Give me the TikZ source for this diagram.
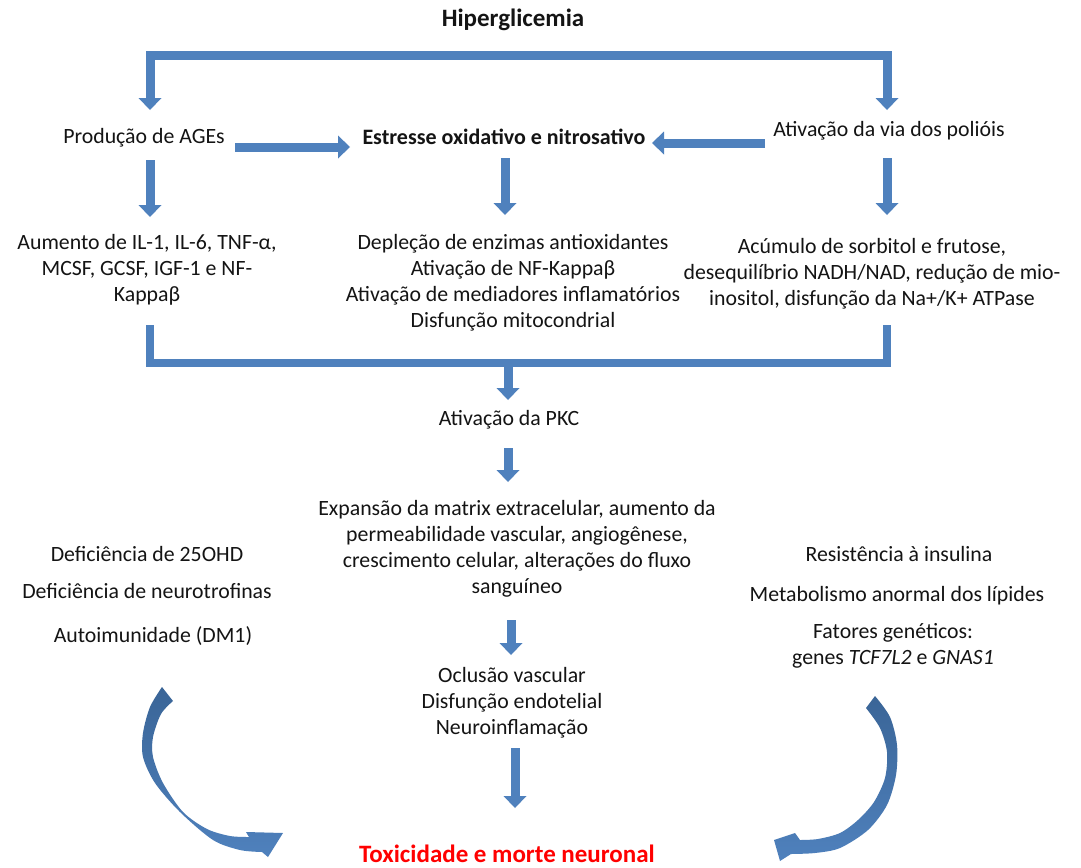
\documentclass[tikz,border=0pt]{standalone}
\usepackage{fontspec}
\setmainfont{Carlito}
\usetikzlibrary{arrows.meta}
\definecolor{arrblue}{HTML}{4F81BD}
\definecolor{arrdark}{HTML}{3A6597}
\definecolor{txtcol}{HTML}{141414}
\begin{document}
\begin{tikzpicture}[x=1pt,y=-1pt,
  txt/.style={font=\fontsize{21.8}{26}\selectfont, align=center, inner sep=0pt, text=txtcol},
  boldtxt/.style={txt, font=\fontsize{22}{26}\selectfont\bfseries},
  bigbold/.style={txt, font=\fontsize{25}{28}\selectfont\bfseries},
  headtip/.tip={Triangle[width=23pt,length=12pt,line width=0pt]},
  barrow/.style={draw=arrblue, line width=9pt, line join=miter, -headtip},
  bbarrow/.style={draw=arrblue, line width=9pt, line join=miter, headtip-headtip},
  bar/.style={draw=arrblue, line width=8pt, line join=miter},
  curved/.style={top color=arrdark, bottom color=arrblue, draw=none}]
\useasboundingbox (0,0) rectangle (1081,867);
\fill[white] (0,0) rectangle (1081,867);

% ---------- text nodes ----------
\node[bigbold] (hiper) at (513,20) {Hiperglicemia};
\node[txt] (ages) at (144,138) {Produção de AGEs};
\node[boldtxt] (estresse) at (504,137) {Estresse oxidativo e nitrosativo};
\node[txt] (poliois) at (889,131) {Ativação da via dos polióis};
\node[txt] (il) at (147,270) {Aumento de IL-1, IL-6, TNF-α,\\MCSF, GCSF, IGF-1 e NF-\\Kappaβ};
\node[txt] (deplecao) at (513,283) {Depleção de enzimas antioxidantes\\Ativação de NF-Kappaβ\\Ativação de mediadores inflamatórios\\Disfunção mitocondrial};
\node[txt] (sorbitol) at (872,274) {Acúmulo de sorbitol e frutose,\\desequilíbrio NADH/NAD, redução de mio-\\inositol, disfunção da Na+/K+ ATPase};
\node[txt] (pkc) at (509,420) {Ativação da PKC};
\node[txt] (expansao) at (517,549) {Expansão da matrix extracelular, aumento da\\permeabilidade vascular, angiogênese,\\crescimento celular, alterações do fluxo\\sanguíneo};
\node[txt] (oclusao) at (512,703) {Oclusão vascular\\Disfunção endotelial\\Neuroinflamação};
\node[bigbold, text=red] (tox) at (507,854) {Toxicidade e morte neuronal};

\node[txt] (d25) at (147,554) {Deficiência de 25OHD};
\node[txt] (dneuro) at (147,591) {Deficiência de neurotrofinas};
\node[txt] (auto) at (153,636) {Autoimunidade (DM1)};
\node[txt] (resist) at (899,554) {Resistência à insulina};
\node[txt] (metab) at (897,596) {Metabolismo anormal dos lípides};
\node[txt] (fatores) at (893,646) {Fatores genéticos:\\genes \textit{TCF7L2} e \textit{GNAS1}};

% ---------- connector coordinates ----------
\coordinate (topL) at (150,110);
\coordinate (topLc) at (150,56);
\coordinate (topRc) at (887,56);
\coordinate (topR) at (887,110);

\coordinate (agesR) at (235,147);
\coordinate (estL) at (350,147);
\coordinate (polL) at (765,143);
\coordinate (estR) at (652,143);

\coordinate (agesD1) at (150,160);
\coordinate (agesD2) at (150,217);
\coordinate (estD1) at (505,158);
\coordinate (estD2) at (505,215);
\coordinate (polD1) at (887,158);
\coordinate (polD2) at (887,215);

\coordinate (botL) at (150,325);
\coordinate (botLc) at (150,363);
\coordinate (botRc) at (887,363);
\coordinate (botR) at (887,325);
\coordinate (botM) at (508,363);
\coordinate (pkcT) at (508,400);

\coordinate (pkcB) at (508,448);
\coordinate (expT) at (508,482);
\coordinate (expB) at (511,620);
\coordinate (oclT) at (511,655);
\coordinate (oclB) at (515,748);
\coordinate (toxT) at (515,808);

% ---------- block arrows ----------
\draw[bbarrow] (topL) -- (topLc) -- (topRc) -- (topR);
\draw[barrow] (agesR) -- (estL);
\draw[barrow] (polL) -- (estR);
\draw[barrow] (agesD1) -- (agesD2);
\draw[barrow] (estD1) -- (estD2);
\draw[barrow] (polD1) -- (polD2);
\draw[bar] (botL) -- (botLc) -- (botRc) -- (botR);
\draw[barrow] (botM) -- (pkcT);
\draw[barrow] (pkcB) -- (expT);
\draw[barrow] (expB) -- (oclT);
\draw[barrow] (oclB) -- (toxT);

% ---------- curved arrows ----------
\shade[curved] (162,687)
  -- plot[smooth] coordinates {(162,687) (150,707) (143,733) (143,757) (155,783) (180,812) (213,840) (240,850) (262,852)}
  -- (268,857) -- (283,833) -- (246,832)
  -- plot[smooth] coordinates {(249,837) (230,836) (207,829) (183,812) (163,783) (153,757) (153,737) (161,714) (173,701)}
  -- cycle;

\shade[curved] (875,696)
  -- plot[smooth] coordinates {(875,696) (890,717) (897,745) (896,775) (887,805) (868,830) (840,848) (815,853) (791,854)}
  -- (780,861) -- (774,840) -- (795,833)
  -- plot[smooth] coordinates {(800,840) (818,839) (840,833) (858,820) (874,802) (885,778) (887,752) (880,728) (866,708)}
  -- cycle;
\end{tikzpicture}
\end{document}
